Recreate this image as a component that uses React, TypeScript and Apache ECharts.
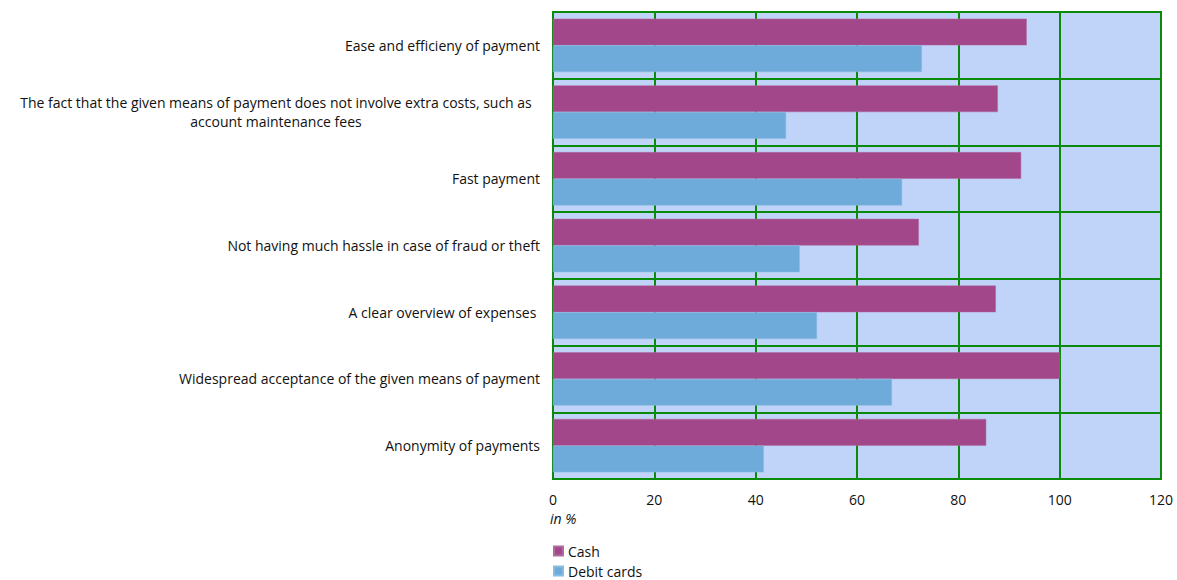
import React, { useEffect, useRef } from "react";
import * as echarts from "echarts";

const categories = [
  "Ease and efficieny of payment",
  "The fact that the given means of payment does not involve extra costs, such as\naccount maintenance fees",
  "Fast payment",
  "Not having much hassle in case of fraud or theft",
  "A clear overview of expenses ",
  "Widespread acceptance of the given means of payment",
  "Anonymity of payments",
];
const seriesNames = ["Cash", "Debit cards"];
const cashValues = [93.5, 87.8, 92.4, 72.2, 87.4, 100.0, 85.5];
const debitValues = [72.8, 46.0, 68.9, 48.7, 52.1, 66.9, 41.6];
const xTicks = [0, 20, 40, 60, 80, 100, 120];

const FONT = "'Open Sans', Lato, sans-serif";
const GREEN = "#0A8A0A";

export default function App() {
  const ref = useRef<HTMLDivElement>(null);
  useEffect(() => {
    if (!ref.current) return;
    const chart = echarts.init(ref.current, undefined, { renderer: "svg" });
    const labelFormatter = (v: string) => {
      if (v.indexOf("\n") >= 0) {
        const parts = v.split("\n");
        return parts.map((p) => `{w|${p}}`).join("\n");
      }
      return v;
    };
    const legendCommon = {
      orient: "vertical",
      left: 553,
      icon: "rect",
      itemWidth: 9,
      itemHeight: 9,
      itemGap: 5,
      padding: 0,
      textStyle: { fontFamily: FONT, fontSize: 14, lineHeight: 14, color: "#111" },
    };
    chart.setOption({
      animation: false,
      textStyle: { fontFamily: FONT },
      grid: {
        left: 553,
        top: 12,
        width: 608,
        height: 467,
        show: true,
        backgroundColor: "#C0D3F8",
        borderColor: GREEN,
        borderWidth: 2,
        containLabel: false,
      },
      legend: [
        { ...legendCommon, top: 544, data: [seriesNames[0]] },
        { ...legendCommon, top: 564, data: [seriesNames[1]] },
      ],
      graphic: [
        {
          type: "text",
          left: 550,
          top: 511,
          style: { text: "in %", fontFamily: FONT, fontStyle: "italic", fontSize: 14, fill: "#111" },
        },
      ],
      xAxis: {
        type: "value",
        min: 0,
        max: 120,
        interval: 20,
        axisLine: { show: true, lineStyle: { color: GREEN, width: 2 } },
        axisTick: { show: false },
        axisLabel: {
          fontFamily: FONT,
          fontSize: 14,
          color: "#111",
          margin: 13,
          formatter: (v: number) => (xTicks.indexOf(v) >= 0 ? String(v) : ""),
        },
        splitLine: { show: true, lineStyle: { color: GREEN, width: 2 } },
      },
      yAxis: {
        type: "category",
        data: categories,
        inverse: true,
        axisLine: { show: true, lineStyle: { color: GREEN, width: 2 } },
        axisTick: { show: false },
        splitLine: { show: true, interval: 0, lineStyle: { color: GREEN, width: 2 } },
        axisLabel: {
          interval: 0,
          fontFamily: FONT,
          fontSize: 14,
          color: "#111",
          margin: 13,
          lineHeight: 19,
          formatter: labelFormatter,
          rich: {
            w: { width: 528, align: "center", fontFamily: FONT, fontSize: 14, color: "#111", lineHeight: 19 },
          },
        },
      },
      series: [
        {
          name: seriesNames[0],
          type: "bar",
          data: cashValues,
          barGap: "0%",
          barCategoryGap: "20%",
          itemStyle: { color: "#A2478A", borderColor: "#B06A9E", borderWidth: 0.5 },
        },
        {
          name: seriesNames[1],
          type: "bar",
          data: debitValues,
          barGap: "0%",
          barCategoryGap: "20%",
          itemStyle: { color: "#6EABDA", borderColor: "#8ABBE0", borderWidth: 0.5 },
        },
      ],
    });
    return () => chart.dispose();
  }, []);
  return (
    <div
      ref={ref}
      style={{ position: "absolute", left: 0, top: 0, width: 1177, height: 580 }}
    />
  );
}
